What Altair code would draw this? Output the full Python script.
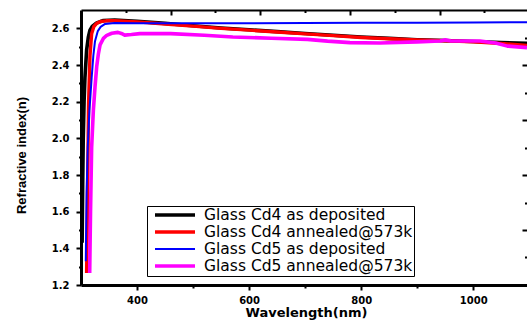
import altair as alt
import pandas as pd

# ---- data ----
names = ["Glass Cd4 as deposited", "Glass Cd4 annealed@573k",
         "Glass Cd5 as deposited", "Glass Cd5 annealed@573k"]
colors = ["#000000", "#ff0000", "#0000ff", "#ff00ff"]
widths = [3.6, 3.4, 2.0, 3.6]

bk_wl = [302, 303, 304, 305.5, 307, 310, 313, 316, 320, 328, 340, 360, 400, 450, 500,
         550, 600, 650, 700, 750, 800, 850, 900, 950, 1000, 1050, 1096]
bk_n = [1.43, 1.75, 2.0, 2.2, 2.33, 2.48, 2.55, 2.59, 2.61, 2.63, 2.643, 2.645, 2.638,
        2.627, 2.614, 2.602, 2.592, 2.582, 2.572, 2.562, 2.553, 2.545, 2.538, 2.533,
        2.528, 2.523, 2.518]

rd_wl = [310, 311, 312, 313.5, 316, 319, 323, 328, 335, 345, 360, 400, 450, 500, 550,
         600, 650, 700, 750, 800, 850, 900, 950, 1000, 1050, 1096]
rd_n = [1.265, 1.5, 1.8, 2.19, 2.45, 2.57, 2.61, 2.627, 2.637, 2.641, 2.641, 2.635,
        2.624, 2.612, 2.6, 2.59, 2.58, 2.57, 2.56, 2.55, 2.543, 2.537, 2.532, 2.526,
        2.517, 2.507]

bl_wl = [308.5, 310, 312, 315, 319, 322, 325, 330, 335, 343, 360, 400, 500, 600, 700,
         800, 900, 1000, 1096]
bl_n = [1.33, 1.7, 1.95, 2.15, 2.33, 2.45, 2.53, 2.585, 2.608, 2.624, 2.629, 2.628,
        2.628, 2.628, 2.629, 2.63, 2.631, 2.632, 2.633]

mg_wl = [315.5, 317, 319, 322, 325, 328, 331, 334, 340, 346, 355, 366, 372, 378, 390,
         405, 460, 520, 571, 640, 704, 740, 780, 834, 900, 941, 950, 960, 1012, 1040,
         1061, 1096]
mg_n = [1.265, 1.6, 1.95, 2.15, 2.28, 2.39, 2.46, 2.51, 2.545, 2.562, 2.573, 2.578,
        2.572, 2.563, 2.566, 2.571, 2.571, 2.562, 2.553, 2.546, 2.54, 2.53, 2.522, 2.52,
        2.526, 2.531, 2.537, 2.531, 2.531, 2.52, 2.503, 2.495]

x_ticks = [400, 500, 600, 700, 800, 900, 1000]
y_ticks = [1.2, 1.3, 1.4, 1.5, 1.6, 1.7, 1.8, 1.9, 2.0, 2.1, 2.2, 2.3, 2.4, 2.5, 2.6]
top_big = [460, 620, 780, 940]
top_small = [380, 540, 700, 860, 1020]
right_big = [1.2, 1.5, 1.8, 2.1, 2.4]
right_small = [1.35, 1.65, 1.95, 2.25, 2.55]

rows = []
for name, wl, nv in zip(names, [bk_wl, rd_wl, bl_wl, mg_wl], [bk_n, rd_n, bl_n, mg_n]):
    for w, v in zip(wl, nv):
        rows.append({"series": name, "wl": w, "n": v})
df = pd.DataFrame(rows)

xs = alt.Scale(domain=[300, 1096], nice=False, zero=False)
ys = alt.Scale(domain=[1.2, 2.7], nice=False, zero=False)

leg = alt.Legend(title=None, orient="none", legendX=66, legendY=196,
                 symbolType="stroke", symbolSize=1600, labelFont="DejaVu Sans",
                 labelFontSize=15.5, labelColor="black", padding=1, clipHeight=16,
                 rowPadding=0, symbolOffset=5, labelOffset=7, strokeColor="black",
                 fillColor="white", labelLimit=400, direction="vertical")

lines = alt.Chart(df).mark_line(strokeCap="butt", strokeJoin="round").encode(
    x=alt.X("wl:Q", scale=xs, axis=alt.Axis(
        orient="bottom", values=x_ticks,
        labelExpr="datum.value % 200 === 0 ? datum.label : ''",
        format="d",
        tickSize={"condition": {"test": "datum.value % 200 === 0", "value": 5}, "value": 3},
        tickWidth=2, tickColor="black", domainColor="black", domainWidth=3,
        labelFont="DejaVu Sans", labelFontWeight="bold", labelFontSize=10,
        labelColor="black", labelPadding=5, grid=False,
        title="Wavelength(nm)", titleFont="DejaVu Sans", titleFontWeight="bold",
        titleFontSize=13, titleColor="black", titleX=225, titleY=31.5,
        titleAlign="center", titleBaseline="alphabetic")),
    y=alt.Y("n:Q", scale=ys, axis=alt.Axis(
        orient="left", values=y_ticks,
        labelExpr="round(datum.value*10) % 2 == 0 ? format(datum.value, '.1f') : ''",
        tickSize={"condition": {"test": "round(datum.value*10) % 2 == 0", "value": 5}, "value": 2.5},
        tickWidth=2, tickColor="black", domainColor="black", domainWidth=3,
        labelFont="DejaVu Sans", labelFontWeight="bold", labelFontSize=10,
        labelColor="black", labelPadding=7, grid=False,
        title="Refractive index(n)", titleFont="Liberation Sans", titleFontWeight="bold",
        titleFontSize=13, titleColor="black", titleX=-60, titleY=145, titleAngle=270,
        titleAlign="center", titleBaseline="middle")),
    color=alt.Color("series:N", scale=alt.Scale(domain=names, range=colors), legend=leg),
    strokeWidth=alt.StrokeWidth("series:N",
                                scale=alt.Scale(type="ordinal", domain=names, range=widths),
                                legend=leg),
)

def tick_layer(xv, yv, size):
    return alt.Chart(df).mark_point(opacity=0).encode(
        x=alt.X("wl:Q", scale=xs, axis=alt.Axis(
            orient="top", values=xv, labels=False, domain=False, tickSize=size,
            tickWidth=2, tickColor="black", offset=-size, grid=False, title=None)),
        y=alt.Y("n:Q", scale=ys, axis=alt.Axis(
            orient="right", values=yv, labels=False, domain=False, tickSize=size,
            tickWidth=2, tickColor="black", offset=-size, grid=False, title=None)),
    )

big = tick_layer(top_big, right_big, 5)
small = tick_layer(top_small, right_small, 2.5)

top_border = alt.Chart(df).mark_point(opacity=0).encode(
    x=alt.X("wl:Q", scale=xs, axis=alt.Axis(
        orient="top", labels=False, ticks=False, domain=True, domainColor="black",
        domainWidth=2, grid=False, title=None)),
    y=alt.Y("n:Q", scale=ys, axis=None),
)

chart = alt.layer(lines, big, small, top_border).resolve_scale(
    x="shared", y="shared", color="shared", strokeWidth="shared"
).resolve_axis(x="independent", y="independent").properties(
    width=446, height=275,
    autosize=alt.AutoSizeParams(type="none"),
    padding={"left": 81, "top": 10, "right": 0, "bottom": 44},
    background="white",
).configure_view(stroke=None)

chart.save("out.html", embed_options={"renderer": "svg", "actions": False})
